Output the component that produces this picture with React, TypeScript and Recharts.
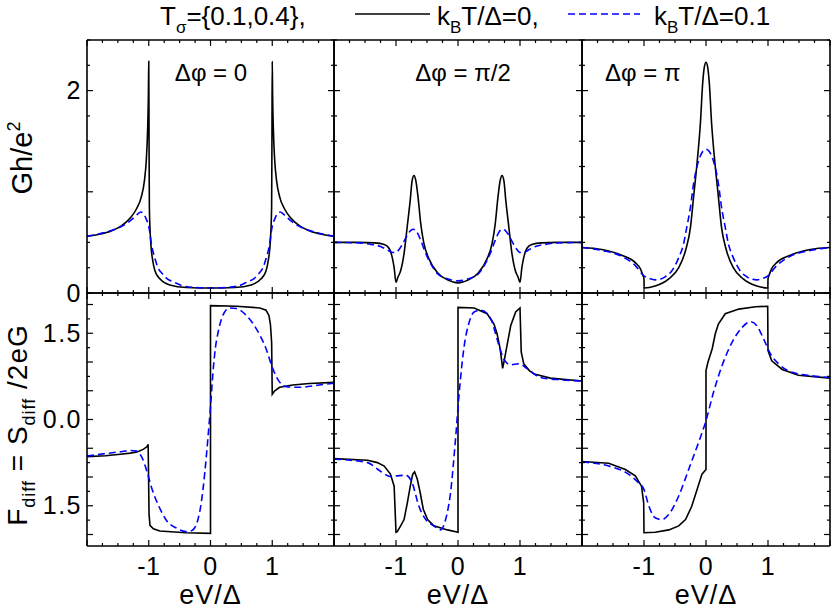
import React from "react";
import { LineChart, Line, XAxis, YAxis } from "recharts";

type Pt = [number, number];

const W = 831;
const H = 611;
const FONT = '"Liberation Sans", Arial, Helvetica, sans-serif';

// ticks and tick labels
const xTicks = [-2, -1.75, -1.5, -1.25, -1, -0.75, -0.5, -0.25, 0, 0.25, 0.5, 0.75, 1, 1.25, 1.5, 1.75, 2];
const xLabelText: Record<string, string> = { "-1": "-1", "0": "0", "1": "1" };
const gTicks = [0, 0.25, 0.5, 0.75, 1, 1.25, 1.5, 1.75, 2, 2.25, 2.5];
const gLabelText: Record<string, string> = { "0": "0", "2": "2" };
const fTicks = [-2, -1.75, -1.5, -1.25, -1, -0.75, -0.5, -0.25, 0, 0.25, 0.5, 0.75, 1, 1.25, 1.5, 1.75, 2];
const fLabelText: Record<string, string> = { "1.5": "1.5", "0": "0.0", "-1.5": "1.5" };
const phaseLabels = ["\u0394\u03c6 = 0", "\u0394\u03c6 = \u03c0/2", "\u0394\u03c6 = \u03c0"];

// conductance Gh/e^2, dphi = 0
const g0Black: Pt[] = [
  [-2, 0.56], [-1.8, 0.58], [-1.6, 0.615], [-1.45, 0.66], [-1.3, 0.74], [-1.2, 0.83], [-1.12, 0.95],
  [-1.07, 1.11], [-1.04, 1.31], [-1.02, 1.58], [-1.005, 2.0], [-1, 2.29], [-0.995, 1.5], [-0.99, 0.85],
  [-0.97, 0.52], [-0.935, 0.32], [-0.9, 0.22], [-0.82, 0.14], [-0.66, 0.08], [-0.39, 0.055], [0, 0.05],
  [0.39, 0.055], [0.66, 0.08], [0.82, 0.14], [0.9, 0.22], [0.935, 0.32], [0.97, 0.52], [0.99, 0.85],
  [0.995, 1.5], [1, 2.29], [1.005, 2.0], [1.02, 1.58], [1.04, 1.31], [1.07, 1.11], [1.12, 0.95],
  [1.2, 0.83], [1.3, 0.74], [1.45, 0.66], [1.6, 0.615], [1.8, 0.58], [2, 0.56],
];
const g0Blue: Pt[] = [
  [-2, 0.56], [-1.7, 0.6], [-1.5, 0.64], [-1.35, 0.69], [-1.25, 0.74], [-1.18, 0.78], [-1.13, 0.8],
  [-1.08, 0.78], [-1.04, 0.73], [-1, 0.66], [-0.95, 0.46], [-0.9, 0.34], [-0.85, 0.25], [-0.78, 0.19],
  [-0.7, 0.14], [-0.6, 0.11], [-0.45, 0.07], [-0.25, 0.055], [0, 0.05], [0.25, 0.055], [0.45, 0.07],
  [0.6, 0.11], [0.7, 0.14], [0.78, 0.19], [0.85, 0.25], [0.9, 0.34], [0.95, 0.46], [1, 0.66],
  [1.04, 0.73], [1.08, 0.78], [1.13, 0.8], [1.18, 0.78], [1.25, 0.74], [1.35, 0.69], [1.5, 0.64],
  [1.7, 0.6], [2, 0.56],
];

// dphi = pi/2
const g1Black: Pt[] = [
  [-2, 0.5], [-1.6, 0.5], [-1.35, 0.495], [-1.19, 0.48], [-1.11, 0.44], [-1.06, 0.35], [-1.03, 0.25],
  [-1, 0.105], [-0.97, 0.155], [-0.925, 0.22], [-0.87, 0.39], [-0.82, 0.65], [-0.77, 0.92], [-0.74, 1.11],
  [-0.71, 1.16], [-0.68, 1.11], [-0.645, 0.95], [-0.6, 0.68], [-0.55, 0.49], [-0.47, 0.34], [-0.33, 0.2],
  [-0.17, 0.13], [0, 0.1], [0.17, 0.13], [0.33, 0.2], [0.47, 0.34], [0.55, 0.49], [0.6, 0.68],
  [0.645, 0.95], [0.68, 1.11], [0.71, 1.16], [0.74, 1.11], [0.77, 0.92], [0.82, 0.65], [0.87, 0.39],
  [0.925, 0.22], [0.97, 0.155], [1, 0.105], [1.03, 0.25], [1.06, 0.35], [1.11, 0.44], [1.19, 0.48],
  [1.35, 0.495], [1.6, 0.5], [2, 0.5],
];
const g1Blue: Pt[] = [
  [-2, 0.5], [-1.6, 0.495], [-1.4, 0.48], [-1.25, 0.46], [-1.15, 0.43], [-1.05, 0.4], [-1, 0.4],
  [-0.95, 0.43], [-0.88, 0.5], [-0.82, 0.57], [-0.76, 0.62], [-0.72, 0.63], [-0.67, 0.61], [-0.6, 0.52],
  [-0.52, 0.39], [-0.44, 0.29], [-0.33, 0.19], [-0.17, 0.14], [0, 0.12], [0.17, 0.14], [0.33, 0.19],
  [0.44, 0.29], [0.52, 0.39], [0.6, 0.52], [0.67, 0.61], [0.72, 0.63], [0.76, 0.62], [0.82, 0.57],
  [0.88, 0.5], [0.95, 0.43], [1, 0.4], [1.05, 0.4], [1.15, 0.43], [1.25, 0.46], [1.4, 0.48],
  [1.6, 0.495], [2, 0.5],
];

// dphi = pi
const g2Black: Pt[] = [
  [-2, 0.45], [-1.68, 0.43], [-1.35, 0.37], [-1.14, 0.3], [-1.06, 0.24], [-1.015, 0.17], [-1, 0.14],
  [-0.998, 0.05], [-0.82, 0.07], [-0.6, 0.14], [-0.44, 0.25], [-0.33, 0.42], [-0.25, 0.65], [-0.2, 0.95],
  [-0.145, 1.28], [-0.09, 1.68], [-0.054, 2.07], [-0.025, 2.24], [0, 2.28], [0.025, 2.24], [0.054, 2.07],
  [0.09, 1.68], [0.145, 1.28], [0.2, 0.95], [0.25, 0.65], [0.33, 0.42], [0.44, 0.25], [0.6, 0.14],
  [0.82, 0.07], [0.998, 0.05], [1, 0.14], [1.015, 0.17], [1.06, 0.24], [1.14, 0.3], [1.35, 0.37],
  [1.68, 0.43], [2, 0.45],
];
const g2Blue: Pt[] = [
  [-2, 0.45], [-1.68, 0.42], [-1.35, 0.36], [-1.14, 0.27], [-1, 0.17], [-0.9, 0.14], [-0.82, 0.13],
  [-0.72, 0.14], [-0.66, 0.16], [-0.55, 0.22], [-0.44, 0.35], [-0.36, 0.49], [-0.31, 0.65], [-0.25, 0.85],
  [-0.2, 1.08], [-0.145, 1.25], [-0.1, 1.34], [-0.05, 1.4], [0, 1.42], [0.05, 1.4], [0.1, 1.34],
  [0.145, 1.25], [0.2, 1.08], [0.25, 0.85], [0.31, 0.65], [0.36, 0.49], [0.44, 0.35], [0.55, 0.22],
  [0.66, 0.16], [0.72, 0.14], [0.82, 0.13], [0.9, 0.14], [1, 0.17], [1.14, 0.27], [1.35, 0.36],
  [1.68, 0.42], [2, 0.45],
];

// Fano factor F_diff, dphi = 0
const f0Black: Pt[] = [
  [-2, -0.645], [-1.7, -0.63], [-1.46, -0.605], [-1.3, -0.585], [-1.19, -0.565], [-1.09, -0.52],
  [-1.03, -0.475], [-1.01, -0.43], [-0.995, -1.65], [-0.98, -1.84], [-0.925, -1.9], [-0.82, -1.94],
  [-0.4, -1.97], [0, -1.98], [0, 1.98], [0.42, 1.97], [0.8, 1.94], [0.9, 1.9], [0.946, 1.81],
  [0.97, 1.66], [0.99, 1.34], [1, 0.44], [1.04, 0.5], [1.12, 0.56], [1.33, 0.6], [1.6, 0.625], [2, 0.645],
];
const f0Blue: Pt[] = [
  [-2, -0.635], [-1.68, -0.59], [-1.45, -0.56], [-1.3, -0.54], [-1.2, -0.55], [-1.11, -0.66],
  [-1.03, -0.9], [-0.95, -1.2], [-0.84, -1.5], [-0.71, -1.76], [-0.55, -1.89], [-0.4, -1.95],
  [-0.3, -1.93], [-0.22, -1.8], [-0.15, -1.45], [-0.09, -0.9], [-0.04, -0.3], [0, 0.22], [0.04, 0.82],
  [0.08, 1.25], [0.12, 1.5], [0.2, 1.81], [0.31, 1.94], [0.42, 1.93], [0.58, 1.81], [0.74, 1.58],
  [0.9, 1.23], [1.01, 0.88], [1.12, 0.65], [1.23, 0.57], [1.44, 0.56], [1.76, 0.6], [2, 0.63],
];

// dphi = pi/2
const f1Black: Pt[] = [
  [-2, -0.68], [-1.46, -0.71], [-1.3, -0.75], [-1.19, -0.81], [-1.09, -0.95], [-1.03, -1.16],
  [-1, -1.96], [-0.98, -1.95], [-0.925, -1.85], [-0.87, -1.74], [-0.817, -1.45], [-0.77, -1.16],
  [-0.73, -0.95], [-0.7, -0.91], [-0.656, -1.04], [-0.61, -1.27], [-0.56, -1.56], [-0.49, -1.74],
  [-0.39, -1.85], [-0.17, -1.92], [0, -1.96], [0, 1.95], [0.26, 1.94], [0.47, 1.84], [0.58, 1.66],
  [0.63, 1.49], [0.68, 1.23], [0.72, 0.89], [0.75, 1.05], [0.8, 1.34], [0.85, 1.63], [0.93, 1.87],
  [1, 1.94], [1.02, 1.17], [1.06, 0.97], [1.15, 0.85], [1.23, 0.79], [1.49, 0.72], [2, 0.67],
];
const f1Blue: Pt[] = [
  [-2, -0.69], [-1.46, -0.75], [-1.25, -0.9], [-1.09, -0.99], [-0.98, -0.98], [-0.84, -0.97],
  [-0.74, -1.1], [-0.63, -1.51], [-0.52, -1.74], [-0.39, -1.85], [-0.28, -1.92], [-0.2, -1.74],
  [-0.12, -1.27], [-0.04, -0.34], [0.02, 0.47], [0.1, 1.28], [0.18, 1.69], [0.26, 1.87], [0.37, 1.9],
  [0.53, 1.75], [0.63, 1.4], [0.74, 1.05], [0.85, 0.95], [0.98, 0.97], [1.12, 0.88], [1.33, 0.73],
  [1.66, 0.69], [2, 0.67],
];

// dphi = pi
const f2Black: Pt[] = [
  [-2, -0.73], [-1.57, -0.76], [-1.3, -0.87], [-1.14, -0.98], [-1.04, -1.16], [-1.005, -1.45],
  [-1, -1.97], [-0.82, -1.96], [-0.6, -1.92], [-0.44, -1.85], [-0.33, -1.74], [-0.23, -1.51],
  [-0.145, -1.22], [-0.065, -0.95], [0, -0.87], [0, 0.85], [0.03, 0.99], [0.1, 1.23], [0.15, 1.49],
  [0.2, 1.66], [0.31, 1.84], [0.53, 1.92], [0.8, 1.96], [0.995, 1.97], [1, 1.2], [1.06, 1.02],
  [1.23, 0.87], [1.49, 0.77], [2, 0.72],
];
const f2Blue: Pt[] = [
  [-2, -0.74], [-1.57, -0.81], [-1.25, -0.95], [-1.09, -1.1], [-1, -1.22], [-0.92, -1.51],
  [-0.82, -1.71], [-0.71, -1.74], [-0.6, -1.65], [-0.44, -1.33], [-0.28, -0.87], [-0.12, -0.4],
  [0, -0.02], [0.12, 0.47], [0.26, 0.94], [0.42, 1.34], [0.58, 1.6], [0.72, 1.7], [0.82, 1.63],
  [0.93, 1.4], [1.04, 1.14], [1.17, 0.97], [1.39, 0.82], [1.71, 0.76], [2, 0.73],
];

const colLeft = [87, 334, 582];
const colRight = [334, 582, 830];
const rowTop = [40, 293];
const rowBottom = [293, 546];

const frame = { stroke: "#000", strokeWidth: 1.6 };

type Side = "bottom" | "top" | "left" | "right";

const makeTick =
  (side: Side, isMajor: (v: number) => boolean, labels?: Record<string, string>) =>
  (props: any) => {
    const { x, y, payload } = props;
    const v: number = payload.value;
    const len = isMajor(v) ? 6 : 3;
    const dx = side === "left" ? len : side === "right" ? -len : 0;
    const dy = side === "top" ? len : side === "bottom" ? -len : 0;
    const label = labels ? labels[String(v)] : undefined;
    return (
      <g>
        <line x1={x} y1={y} x2={x + dx} y2={y + dy} stroke="#000" strokeWidth={1.2} />
        {label !== undefined && side === "bottom" && (
          <text x={x} y={y + 29} textAnchor="middle" fontSize={25} letterSpacing={0.5} fill="#000" fontFamily={FONT}>
            {label}
          </text>
        )}
        {label !== undefined && side === "left" && (
          <text x={x - 5} y={y + 8.5} textAnchor="end" fontSize={25} letterSpacing={1.5} fill="#000" fontFamily={FONT}>
            {label}
          </text>
        )}
      </g>
    );
  };

const rows = (pts: Pt[]) => pts.map(([x, y]) => ({ x, y }));

type PanelProps = { col: number; row: number; black: Pt[]; blue: Pt[] };

function Panel({ col, row, black, blue }: PanelProps) {
  const yDomain = row === 0 ? [0, 2.5] : [-2.2, 2.2];
  const yTicks = row === 0 ? gTicks : fTicks;
  const xMajor = (v: number) => Number.isInteger(v);
  const yMajor = (v: number) => (row === 0 ? Number.isInteger(v) : Number.isInteger(v * 2));
  const yLab = col === 0 ? (row === 0 ? gLabelText : fLabelText) : undefined;
  const xLab = row === 1 ? xLabelText : undefined;
  return (
    <div style={{ position: "absolute", left: 0, top: 0 }}>
      <LineChart
        width={W}
        height={H}
        margin={{
          top: rowTop[row] - 1,
          bottom: H - rowBottom[row] - 1,
          left: colLeft[col] - 1,
          right: W - colRight[col] - 1,
        }}
      >
        <XAxis xAxisId="b" type="number" dataKey="x" domain={[-2, 2]} ticks={xTicks} interval={0}
          height={1} tickSize={0} tickMargin={0} tickLine={false} axisLine={frame}
          tick={makeTick("bottom", xMajor, xLab)} allowDataOverflow />
        <XAxis xAxisId="t" orientation="top" type="number" dataKey="x" domain={[-2, 2]} ticks={xTicks}
          interval={0} height={1} tickSize={0} tickMargin={0} tickLine={false} axisLine={frame}
          tick={makeTick("top", xMajor)} allowDataOverflow />
        <YAxis yAxisId="l" type="number" domain={yDomain} ticks={yTicks} interval={0} width={1}
          tickSize={0} tickMargin={0} tickLine={false} axisLine={frame}
          tick={makeTick("left", yMajor, yLab)} allowDataOverflow />
        <YAxis yAxisId="r" orientation="right" type="number" domain={yDomain} ticks={yTicks} interval={0}
          width={1} tickSize={0} tickMargin={0} tickLine={false} axisLine={frame}
          tick={makeTick("right", yMajor)} allowDataOverflow />
        <Line xAxisId="b" yAxisId="l" data={rows(black)} dataKey="y" type={row === 0 ? "monotone" : "linear"}
          stroke="#000" strokeWidth={1.6} dot={false} activeDot={false} isAnimationActive={false} />
        <Line xAxisId="b" yAxisId="l" data={rows(blue)} dataKey="y" type="monotone" stroke="#0000ff"
          strokeWidth={1.6} strokeDasharray="7 4" dot={false} activeDot={false} isAnimationActive={false} />
      </LineChart>
    </div>
  );
}

export default function App() {
  const centers = colLeft.map((l, i) => (l + colRight[i]) / 2);
  return (
    <div style={{ position: "absolute", left: 0, top: 0, width: W, height: H, background: "#fff", fontFamily: FONT }}>
      <Panel col={0} row={0} black={g0Black} blue={g0Blue} />
      <Panel col={1} row={0} black={g1Black} blue={g1Blue} />
      <Panel col={2} row={0} black={g2Black} blue={g2Blue} />
      <Panel col={0} row={1} black={f0Black} blue={f0Blue} />
      <Panel col={1} row={1} black={f1Black} blue={f1Blue} />
      <Panel col={2} row={1} black={f2Black} blue={f2Blue} />
      <svg width={W} height={H} style={{ position: "absolute", left: 0, top: 0, pointerEvents: "none" }}
        fontFamily={FONT} fill="#000">
        {/* legend */}
        <text x={160} y={25} fontSize={26}>
          T<tspan dy={8} fontSize={17}>{"\u03c3"}</tspan>
          <tspan dy={-8}>{"={0.1,0.4},"}</tspan>
        </text>
        <line x1={355} x2={430} y1={14} y2={14} stroke="#000" strokeWidth={1.5} />
        <text x={437} y={25} fontSize={26}>
          k<tspan dy={8} fontSize={17}>B</tspan>
          <tspan dy={-8}>{"T/\u0394=0,"}</tspan>
        </text>
        <line x1={568} x2={640} y1={14} y2={14} stroke="#0000ff" strokeWidth={1.5} strokeDasharray="7 4" />
        <text x={654} y={25} fontSize={26}>
          k<tspan dy={8} fontSize={17}>B</tspan>
          <tspan dy={-8}>{"T/\u0394=0.1"}</tspan>
        </text>

        {/* panel labels */}
        <text x={211} y={81} fontSize={24} textAnchor="middle">{phaseLabels[0]}</text>
        <text x={463} y={81} fontSize={24} textAnchor="middle">{phaseLabels[1]}</text>
        <text x={605} y={81} fontSize={24}>{phaseLabels[2]}</text>

        {/* axis titles */}
        <text transform="translate(32,158) rotate(-90)" textAnchor="middle" fontSize={29}>
          Gh/e<tspan dy={-12} fontSize={18}>2</tspan>
        </text>
        <text transform="translate(27,425) rotate(-90)" textAnchor="middle" fontSize={28} letterSpacing={1}>
          F<tspan dy={8} fontSize={18}>diff</tspan>
          <tspan dy={-8}>{" = S"}</tspan>
          <tspan dy={8} fontSize={18}>diff</tspan>
          <tspan dy={-8}>{" /2eG"}</tspan>
        </text>
        {centers.map((c, i) => (
          <text key={i} x={c} y={604} fontSize={27} letterSpacing={1} textAnchor="middle">
            {"eV/\u0394"}
          </text>
        ))}
      </svg>
    </div>
  );
}
